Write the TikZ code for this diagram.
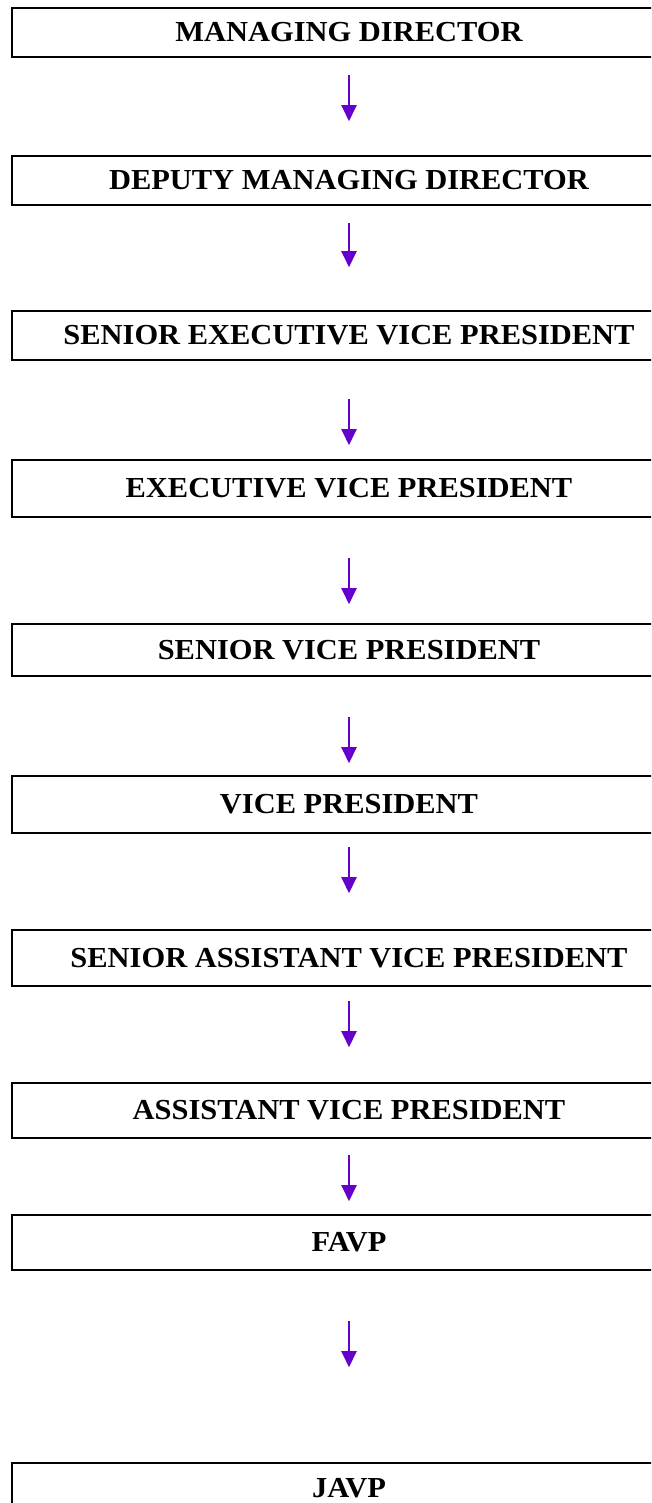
\documentclass[tikz,border=0pt]{standalone}
\usepackage{fontspec}
\setmainfont{Liberation Serif}[FakeStretch=1.05]
\usetikzlibrary{arrows.meta}
\definecolor{arrowpurple}{HTML}{6600CC}
\tikzset{
  x=1pt, y=1pt,
  rankbox/.style={draw=black, line width=1.6pt, rectangle, minimum width=674pt,
    inner sep=0pt, font=\fontsize{29}{34}\selectfont\bfseries, text=black},
  down/.style={draw=arrowpurple, line width=2.4pt,
    -{Triangle[width=15pt,length=16pt]}},
}
\begin{document}
\begin{tikzpicture}
\useasboundingbox (0,0) rectangle (651,-1503);
\clip (0,0) rectangle (651,-1503);
% rank boxes: centre y = -(top+bottom)/2
\node[rankbox, minimum height=49pt] (b1) at (349,-32.5) {MANAGING DIRECTOR};
\node[rankbox, minimum height=49pt] (b2) at (349,-180.5) {DEPUTY MANAGING DIRECTOR};
\node[rankbox, minimum height=49pt] (b3) at (349,-335.5) {SENIOR EXECUTIVE VICE PRESIDENT};
\node[rankbox, minimum height=57pt] (b4) at (349,-488.5) {EXECUTIVE VICE PRESIDENT};
\node[rankbox, minimum height=52pt] (b5) at (349,-650) {SENIOR VICE PRESIDENT};
\node[rankbox, minimum height=57pt] (b6) at (349,-804.5) {VICE PRESIDENT};
\node[rankbox, minimum height=56pt] (b7) at (349,-958) {SENIOR ASSISTANT VICE PRESIDENT};
\node[rankbox, minimum height=55pt] (b8) at (349,-1110.5) {ASSISTANT VICE PRESIDENT};
\node[rankbox, minimum height=55pt] (b9) at (349,-1242.5) {FAVP};
\node[rankbox, minimum height=50pt] (b10) at (349,-1488) {JAVP};
% connectors between successive ranks
\draw[down] ([yshift=-17pt]b1.south) -- ([yshift=34pt]b2.north);
\draw[down] ([yshift=-17pt]b2.south) -- ([yshift=43pt]b3.north);
\draw[down] ([yshift=-38pt]b3.south) -- ([yshift=14pt]b4.north);
\draw[down] ([yshift=-40pt]b4.south) -- ([yshift=19pt]b5.north);
\draw[down] ([yshift=-40pt]b5.south) -- ([yshift=12pt]b6.north);
\draw[down] ([yshift=-13pt]b6.south) -- ([yshift=36pt]b7.north);
\draw[down] ([yshift=-14pt]b7.south) -- ([yshift=35pt]b8.north);
\draw[down] ([yshift=-16pt]b8.south) -- ([yshift=13pt]b9.north);
\draw[down] ([yshift=-50pt]b9.south) -- ([yshift=95pt]b10.north);
\end{tikzpicture}
\end{document}
